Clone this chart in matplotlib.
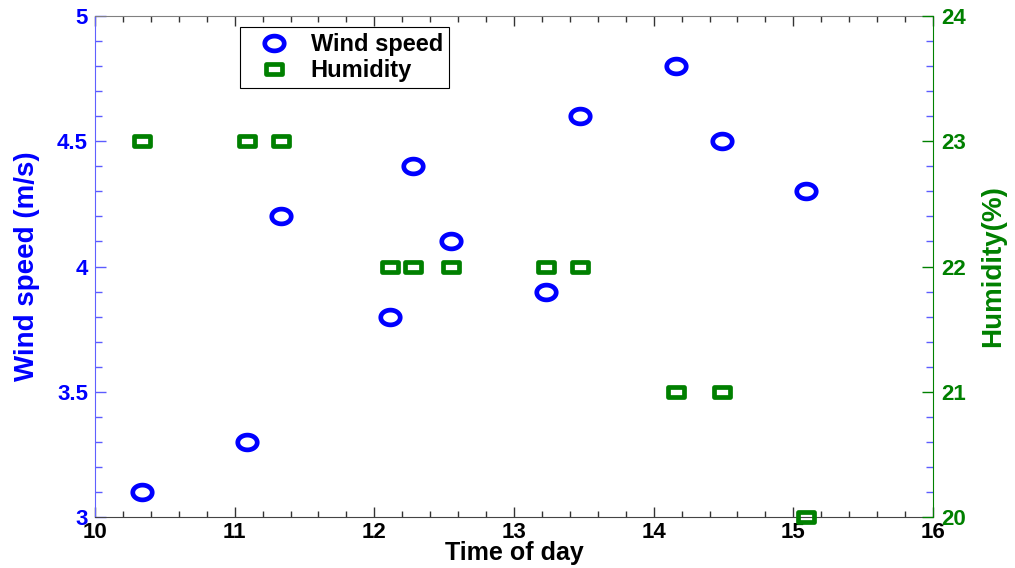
import numpy as np
import matplotlib.pyplot as plt
from matplotlib.path import Path
from matplotlib.ticker import MultipleLocator, FuncFormatter

# values
time_of_day = [10.34, 11.09, 11.33, 12.11, 12.28, 12.55, 13.23, 13.47, 14.16, 14.49, 15.09]
wind_speed = [3.1, 3.3, 4.2, 3.8, 4.4, 4.1, 3.9, 4.6, 4.8, 4.5, 4.3]
humidity = [23, 23, 23, 22, 22, 22, 22, 22, 21, 21, 20]

plt.rcParams['font.family'] = ['Liberation Sans', 'DejaVu Sans']
plt.rcParams['font.weight'] = 'bold'

blue = '#0000ff'
green = '#008000'

fig = plt.figure(figsize=(10.15, 5.68), dpi=100)
ax = fig.add_axes([0.0936, 0.0898, 0.8256, 0.882])
ax2 = ax.twinx()

# stretched markers like the original (wider than tall)
t = np.linspace(0, 2 * np.pi, 64)
ellipse = Path(np.column_stack([np.cos(t), 0.76 * np.sin(t)]), closed=True)
rect = Path([(-1, -0.66), (1, -0.66), (1, 0.66), (-1, 0.66), (-1, -0.66)], closed=True)

l1, = ax.plot(time_of_day, wind_speed, linestyle='none', marker=ellipse, ms=14,
              mfc='none', mec=blue, mew=3.4, label='Wind speed', clip_on=False)
l2, = ax2.plot(time_of_day, humidity, linestyle='none', marker=rect, ms=11,
               mfc='none', mec=green, mew=3.4, label='Humidity', clip_on=False)

ax.set_xlim(10, 16)
ax.set_ylim(3, 5)
ax2.set_ylim(20, 24)

ax.xaxis.set_major_locator(MultipleLocator(1))
ax.xaxis.set_minor_locator(MultipleLocator(0.2))
ax.yaxis.set_major_locator(MultipleLocator(0.5))
ax.yaxis.set_minor_locator(MultipleLocator(0.1))
ax.yaxis.set_major_formatter(FuncFormatter(lambda v, p: f'{v:g}'))
ax2.yaxis.set_major_locator(MultipleLocator(1))

ax.tick_params(axis='x', which='both', direction='in', top=True, color='#333333',
               labelcolor='black', labelsize=16, pad=3.5)
ax.tick_params(axis='x', which='major', length=7, width=1)
ax.tick_params(axis='x', which='minor', length=4, width=1)
ax.tick_params(axis='y', which='both', direction='in', left=True, right=False,
               color='#5c5cff', labelcolor=blue, labelsize=16, pad=5)
ax.tick_params(axis='y', which='major', length=8, width=1)
ax.tick_params(axis='y', which='minor', length=5, width=1, right=True)
ax2.tick_params(axis='y', which='major', direction='in', length=8, width=1,
                color=green, labelcolor=green, labelsize=16, pad=6)

for s in ['top', 'bottom', 'left']:
    ax2.spines[s].set_visible(False)
ax.spines['right'].set_visible(False)
ax.spines['left'].set_color('#6060ff')
ax.spines['top'].set_color('#808080')
ax.spines['bottom'].set_color('#444444')
ax2.spines['right'].set_color(green)

ax.set_xlabel('Time of day', fontsize=18, fontweight='bold', labelpad=-1.5)
ax.set_ylabel('Wind speed (m/s)', color=blue, fontsize=20, fontweight='bold', labelpad=12)
ax2.set_ylabel('Humidity(%)', color=green, fontsize=20, fontweight='bold', labelpad=10)

leg = ax2.legend([l1, l2], ['Wind speed', 'Humidity'], loc='upper left',
                 bbox_to_anchor=(0.173, 0.978), fancybox=False, edgecolor='black',
                 framealpha=1, fontsize=17, borderaxespad=0, borderpad=0.25,
                 handlelength=2.4, handletextpad=0.35, labelspacing=0.15, numpoints=1)
leg.get_frame().set_linewidth(0.8)

fig.savefig('out.png', dpi=100)
